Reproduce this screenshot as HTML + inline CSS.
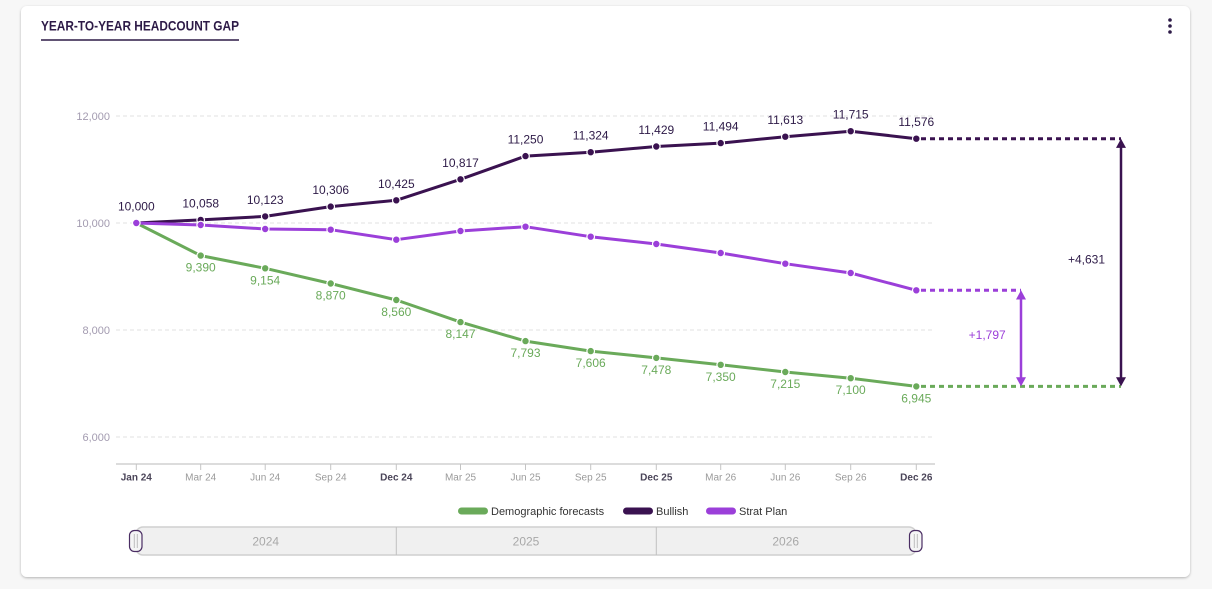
<!DOCTYPE html>
<html>
<head>
<meta charset="utf-8">
<style>
  html,body{margin:0;padding:0;background:#f7f7f7;}
  body{width:1212px;height:589px;overflow:hidden;font-family:"Liberation Sans",sans-serif;}
  svg{display:block;}
  text{font-family:"Liberation Sans",sans-serif;}
</style>
</head>
<body>
<svg width="1212" height="589" viewBox="0 0 1212 589" xmlns="http://www.w3.org/2000/svg">
  <defs>
    <filter id="sh" x="-5%" y="-5%" width="110%" height="110%">
      <feDropShadow dx="0" dy="1" stdDeviation="1.2" flood-color="#000" flood-opacity="0.28"/>
    </filter>
  </defs>
  <!-- card -->
  <rect x="21" y="6" width="1169" height="571" rx="6" ry="6" fill="#fff" filter="url(#sh)"/>

  <!-- title -->
  <text x="41" y="30.7" font-size="14" font-weight="bold" fill="#2d1a47" textLength="198" lengthAdjust="spacingAndGlyphs">YEAR-TO-YEAR HEADCOUNT GAP</text>
  <line x1="41" y1="40" x2="239" y2="40" stroke="#2d1a47" stroke-width="1.5"/>

  <!-- kebab -->
  <circle cx="1170" cy="20" r="1.8" fill="#2d1a47"/>
  <circle cx="1170" cy="26" r="1.8" fill="#2d1a47"/>
  <circle cx="1170" cy="32" r="1.8" fill="#2d1a47"/>

  <!-- gridlines -->
  <g stroke="#e2e2e2" stroke-width="1" stroke-dasharray="4,3">
    <line x1="116" y1="116" x2="935" y2="116"/>
    <line x1="116" y1="223" x2="935" y2="223"/>
    <line x1="116" y1="330" x2="935" y2="330"/>
    <line x1="116" y1="437" x2="935" y2="437"/>
  </g>
  <g font-size="11" fill="#a39bb0" text-anchor="end">
    <text x="110" y="120">12,000</text>
    <text x="110" y="227">10,000</text>
    <text x="110" y="334">8,000</text>
    <text x="110" y="441">6,000</text>
  </g>

  <!-- x axis -->
  <line x1="116" y1="464" x2="935" y2="464" stroke="#dcdcdc" stroke-width="2"/>
  <g stroke="#c4c4c4" stroke-width="1">
    <line x1="136.3" y1="464" x2="136.3" y2="470"/>
    <line x1="200.7" y1="464" x2="200.7" y2="470"/>
    <line x1="265.2" y1="464" x2="265.2" y2="470"/>
    <line x1="330.7" y1="464" x2="330.7" y2="470"/>
    <line x1="396.3" y1="464" x2="396.3" y2="470"/>
    <line x1="460.5" y1="464" x2="460.5" y2="470"/>
    <line x1="525.5" y1="464" x2="525.5" y2="470"/>
    <line x1="590.7" y1="464" x2="590.7" y2="470"/>
    <line x1="656.3" y1="464" x2="656.3" y2="470"/>
    <line x1="720.7" y1="464" x2="720.7" y2="470"/>
    <line x1="785.3" y1="464" x2="785.3" y2="470"/>
    <line x1="850.7" y1="464" x2="850.7" y2="470"/>
    <line x1="916.3" y1="464" x2="916.3" y2="470"/>
  </g>
  <g font-size="10" fill="#9a9a9a" text-anchor="middle">
    <text x="136.3" y="480.5" font-weight="bold" fill="#4a4458">Jan 24</text>
    <text x="200.7" y="480.5">Mar 24</text>
    <text x="265.2" y="480.5">Jun 24</text>
    <text x="330.7" y="480.5">Sep 24</text>
    <text x="396.3" y="480.5" font-weight="bold" fill="#4a4458">Dec 24</text>
    <text x="460.5" y="480.5">Mar 25</text>
    <text x="525.5" y="480.5">Jun 25</text>
    <text x="590.7" y="480.5">Sep 25</text>
    <text x="656.3" y="480.5" font-weight="bold" fill="#4a4458">Dec 25</text>
    <text x="720.7" y="480.5">Mar 26</text>
    <text x="785.3" y="480.5">Jun 26</text>
    <text x="850.7" y="480.5">Sep 26</text>
    <text x="916.3" y="480.5" font-weight="bold" fill="#4a4458">Dec 26</text>
  </g>

  <!-- dashed extensions -->
  <g stroke-width="3" stroke-dasharray="5,4" fill="none">
    <line x1="921" y1="138.7" x2="1121" y2="138.7" stroke="#3a1250"/>
    <line x1="921" y1="290.3" x2="1021" y2="290.3" stroke="#9b3fd9"/>
    <line x1="921" y1="386.4" x2="1121" y2="386.4" stroke="#6aaa5a"/>
  </g>

  <!-- arrows -->
  <line x1="1021" y1="298" x2="1021" y2="379" stroke="#9b3fd9" stroke-width="2.5"/>
  <polygon points="1021,290.3 1016,299.5 1026,299.5" fill="#9b3fd9"/>
  <polygon points="1021,386.4 1016,377.2 1026,377.2" fill="#9b3fd9"/>
  <line x1="1121" y1="146" x2="1121" y2="379" stroke="#3a1250" stroke-width="2.5"/>
  <polygon points="1121,138.7 1116,147.9 1126,147.9" fill="#3a1250"/>
  <polygon points="1121,386.4 1116,377.2 1126,377.2" fill="#3a1250"/>
  <text x="1105" y="263.3" font-size="12" fill="#2d1a47" text-anchor="end">+4,631</text>
  <text x="1005.7" y="339" font-size="12" fill="#9b3fd9" text-anchor="end">+1,797</text>

  <!-- green series -->
  <polyline fill="none" stroke="#6aaa5a" stroke-width="3" stroke-linejoin="round"
    points="136.3,223 200.7,255.6 265.2,268.3 330.7,283.5 396.3,300 460.5,322.1 525.5,341.1 590.7,351.1 656.3,357.9 720.7,364.8 785.3,372 850.7,378.2 916.3,386.4"/>
  <g fill="#6aaa5a" stroke="#fff" stroke-width="1.2">
    <circle cx="200.7" cy="255.6" r="3.8"/>
    <circle cx="265.2" cy="268.3" r="3.8"/>
    <circle cx="330.7" cy="283.5" r="3.8"/>
    <circle cx="396.3" cy="300" r="3.8"/>
    <circle cx="460.5" cy="322.1" r="3.8"/>
    <circle cx="525.5" cy="341.1" r="3.8"/>
    <circle cx="590.7" cy="351.1" r="3.8"/>
    <circle cx="656.3" cy="357.9" r="3.8"/>
    <circle cx="720.7" cy="364.8" r="3.8"/>
    <circle cx="785.3" cy="372" r="3.8"/>
    <circle cx="850.7" cy="378.2" r="3.8"/>
    <circle cx="916.3" cy="386.4" r="3.8"/>
  </g>
  <g font-size="12" fill="#6aaa5a" text-anchor="middle">
    <text x="200.7" y="271.6">9,390</text>
    <text x="265.2" y="284.3">9,154</text>
    <text x="330.7" y="299.5">8,870</text>
    <text x="396.3" y="316">8,560</text>
    <text x="460.5" y="338.1">8,147</text>
    <text x="525.5" y="357.1">7,793</text>
    <text x="590.7" y="367.1">7,606</text>
    <text x="656.3" y="373.9">7,478</text>
    <text x="720.7" y="380.8">7,350</text>
    <text x="785.3" y="388">7,215</text>
    <text x="850.7" y="394.2">7,100</text>
    <text x="916.3" y="402.4">6,945</text>
  </g>

  <!-- bullish series -->
  <polyline fill="none" stroke="#3a1250" stroke-width="3" stroke-linejoin="round"
    points="136.3,223 200.7,219.9 265.2,216.4 330.7,206.6 396.3,200.3 460.5,179.3 525.5,156.1 590.7,152.2 656.3,146.5 720.7,143.1 785.3,136.7 850.7,131.2 916.3,138.7"/>
  <g fill="#3a1250" stroke="#fff" stroke-width="1.2">
    <circle cx="200.7" cy="219.9" r="3.8"/>
    <circle cx="265.2" cy="216.4" r="3.8"/>
    <circle cx="330.7" cy="206.6" r="3.8"/>
    <circle cx="396.3" cy="200.3" r="3.8"/>
    <circle cx="460.5" cy="179.3" r="3.8"/>
    <circle cx="525.5" cy="156.1" r="3.8"/>
    <circle cx="590.7" cy="152.2" r="3.8"/>
    <circle cx="656.3" cy="146.5" r="3.8"/>
    <circle cx="720.7" cy="143.1" r="3.8"/>
    <circle cx="785.3" cy="136.7" r="3.8"/>
    <circle cx="850.7" cy="131.2" r="3.8"/>
    <circle cx="916.3" cy="138.7" r="3.8"/>
  </g>
  <g font-size="12" fill="#2d1a47" text-anchor="middle">
    <text x="136.3" y="210.5">10,000</text>
    <text x="200.7" y="207.4">10,058</text>
    <text x="265.2" y="203.9">10,123</text>
    <text x="330.7" y="194.1">10,306</text>
    <text x="396.3" y="187.8">10,425</text>
    <text x="460.5" y="166.8">10,817</text>
    <text x="525.5" y="143.6">11,250</text>
    <text x="590.7" y="139.7">11,324</text>
    <text x="656.3" y="134">11,429</text>
    <text x="720.7" y="130.6">11,494</text>
    <text x="785.3" y="124.2">11,613</text>
    <text x="850.7" y="118.7">11,715</text>
    <text x="916.3" y="126.2">11,576</text>
  </g>

  <!-- strat plan series -->
  <polyline fill="none" stroke="#9b3fd9" stroke-width="3" stroke-linejoin="round"
    points="136.3,223 200.7,225 265.2,229 330.7,229.7 396.3,239.7 460.5,231 525.5,226.7 590.7,236.7 656.3,244 720.7,253 785.3,263.7 850.7,273 916.3,290.3"/>
  <g fill="#9b3fd9" stroke="#fff" stroke-width="1.2">
    <circle cx="136.3" cy="223" r="3.8"/>
    <circle cx="200.7" cy="225" r="3.8"/>
    <circle cx="265.2" cy="229" r="3.8"/>
    <circle cx="330.7" cy="229.7" r="3.8"/>
    <circle cx="396.3" cy="239.7" r="3.8"/>
    <circle cx="460.5" cy="231" r="3.8"/>
    <circle cx="525.5" cy="226.7" r="3.8"/>
    <circle cx="590.7" cy="236.7" r="3.8"/>
    <circle cx="656.3" cy="244" r="3.8"/>
    <circle cx="720.7" cy="253" r="3.8"/>
    <circle cx="785.3" cy="263.7" r="3.8"/>
    <circle cx="850.7" cy="273" r="3.8"/>
    <circle cx="916.3" cy="290.3" r="3.8"/>
  </g>

  <!-- legend -->
  <rect x="458" y="507.5" width="30" height="7" rx="3.5" fill="#6aaa5a"/>
  <text x="491" y="515" font-size="11" fill="#333">Demographic forecasts</text>
  <rect x="623" y="507.5" width="30" height="7" rx="3.5" fill="#3a1250"/>
  <text x="656" y="515" font-size="11" fill="#333">Bullish</text>
  <rect x="706" y="507.5" width="30" height="7" rx="3.5" fill="#9b3fd9"/>
  <text x="739" y="515" font-size="11" fill="#333">Strat Plan</text>

  <!-- navigator -->
  <rect x="136" y="527" width="780" height="28" rx="7" fill="#f0f0f0" stroke="#cfcfcf" stroke-width="1.5"/>
  <line x1="396.3" y1="527" x2="396.3" y2="555" stroke="#c0c0c0" stroke-width="1"/>
  <line x1="656.3" y1="527" x2="656.3" y2="555" stroke="#c0c0c0" stroke-width="1"/>
  <g font-size="12" fill="#a8a8a8" text-anchor="middle">
    <text x="265.7" y="545.5">2024</text>
    <text x="526" y="545.5">2025</text>
    <text x="785.7" y="545.5">2026</text>
  </g>
  <g>
    <rect x="129.5" y="530.5" width="12.5" height="21" rx="5" fill="#f5f5f5" stroke="#4a2d63" stroke-width="1.2"/>
    <line x1="134.3" y1="534" x2="134.3" y2="548" stroke="#bdbdbd" stroke-width="1"/>
    <line x1="137.3" y1="534" x2="137.3" y2="548" stroke="#bdbdbd" stroke-width="1"/>
    <rect x="909.5" y="530.5" width="12.5" height="21" rx="5" fill="#f5f5f5" stroke="#4a2d63" stroke-width="1.2"/>
    <line x1="914.3" y1="534" x2="914.3" y2="548" stroke="#bdbdbd" stroke-width="1"/>
    <line x1="917.3" y1="534" x2="917.3" y2="548" stroke="#bdbdbd" stroke-width="1"/>
  </g>
</svg>
</body>
</html>
